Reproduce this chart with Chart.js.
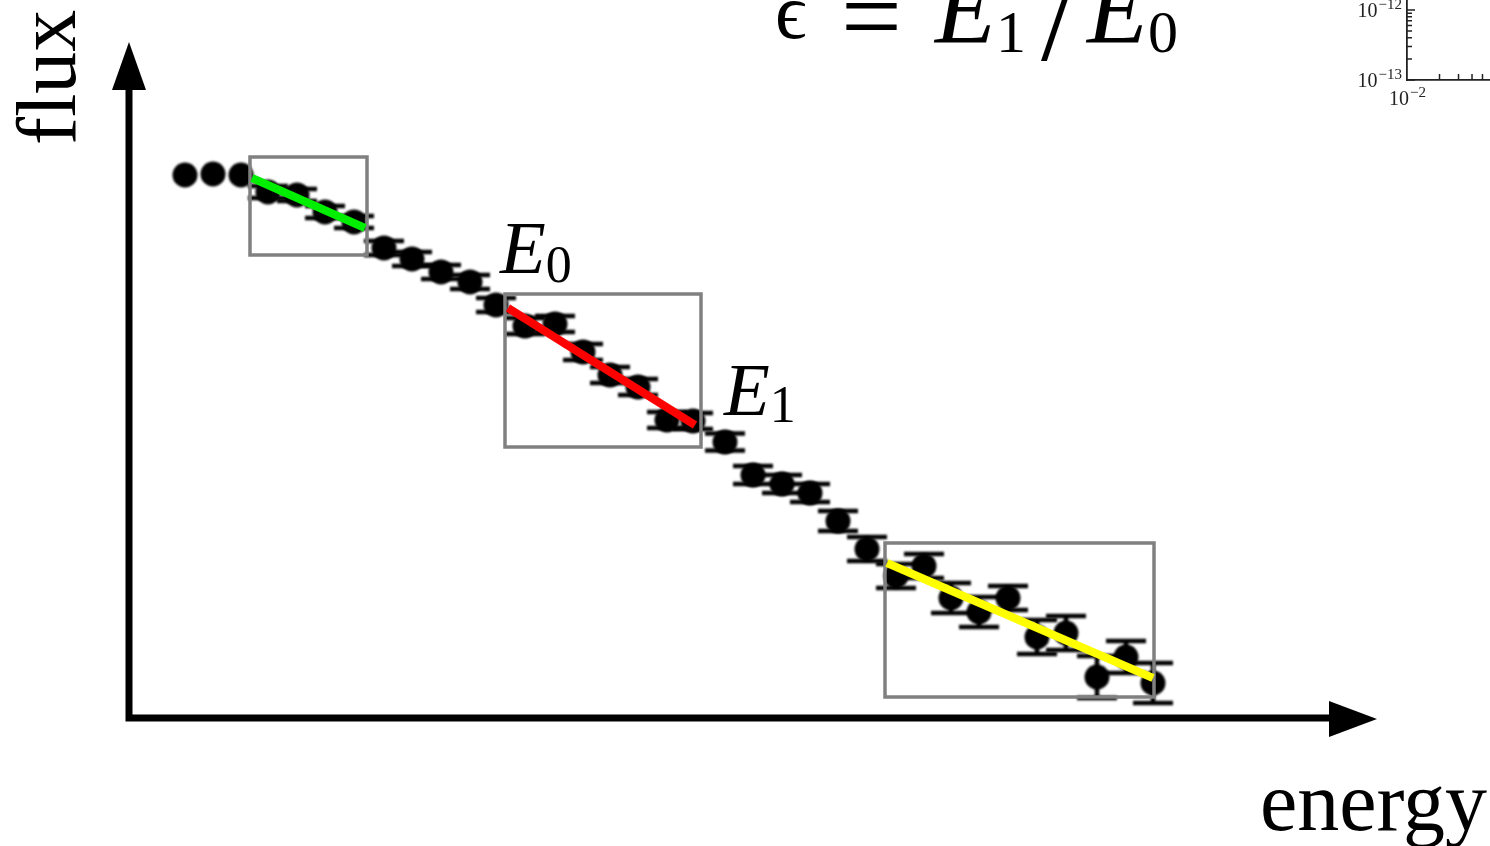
<!DOCTYPE html>
<html>
<head>
<meta charset="utf-8">
<title>flux vs energy</title>
<script src="https://cdn.jsdelivr.net/npm/chart.js@4.4.1/dist/chart.umd.min.js"></script>
<style>
  html, body { margin: 0; padding: 0; background: #fff; overflow: hidden; }
  #wrap { position: relative; width: 1490px; height: 846px; }
  #spectrum { position: absolute; left: 0; top: 0; }
  #inset { position: absolute; left: 1330px; top: 0; }
</style>
</head>
<body>
<div id="wrap">
  <canvas id="spectrum" width="1490" height="846"></canvas>
  <canvas id="inset" width="160" height="110"></canvas>
</div>
<script>
// Spectrum points (arbitrary units, the two axes cross at 0,0)
const energy = [5.6, 8.4, 11.2, 13.9, 16.8, 19.6, 22.5, 25.5, 28.3, 31.2, 34.1, 36.7,
    39.6, 42.6, 45.4, 48.1, 50.9, 53.8, 56.4, 59.6, 62.4, 65.3, 68.1, 70.9, 73.8,
    76.7, 79.5, 82.2, 85.0, 87.9, 90.8, 93.7, 96.8, 99.7, 102.4];
const flux = [54.3, 54.4, 54.3, 52.6, 52.3, 50.6, 49.6, 47.0, 45.9, 44.6, 43.6, 41.3,
    39.2, 39.4, 36.6, 34.3, 33.1, 29.8, 29.7, 27.6, 24.3, 23.4, 22.5, 19.7, 16.9,
    14.2, 15.2, 12.0, 10.6, 12.0, 8.1, 8.5, 4.1, 6.1, 3.5];
const fluxErr = [0, 0, 0, 0.6, 0.6, 0.6, 0.6, 0.7, 0.7, 0.7, 0.7, 0.7,
    0.8, 0.8, 0.8, 0.8, 0.8, 0.8, 0.8, 0.85, 0.9, 0.9, 0.9, 1.0, 1.2,
    1.2, 1.2, 1.5, 1.5, 1.2, 1.7, 1.7, 2.1, 1.6, 2.0];

// Straight-line fits over three energy windows
const fitLowE = [12.3, 23.6];
const fitLowF = [54.0, 49.0];
const fitMidE = [37.9, 56.6];
const fitMidF = [41.0, 29.3];
const fitHighE = [75.8, 102.4];
const fitHighF = [15.5, 4.0];

// Fit windows as [eMin, eMax, fMin, fMax]
const windowLow = [12.1, 23.8, 46.3, 56.1];
const windowMid = [37.6, 57.2, 27.1, 42.4];
const windowHigh = [75.6, 102.5, 2.1, 17.5];

// Small log-log panel in the corner
const insetYMajor = [1e-13, 1e-12];
const insetYMinor = [2e-13, 3e-13, 4e-13, 5e-13, 6e-13, 7e-13, 8e-13, 9e-13];
const insetXMajor = [1e-2];
const insetXMinor = [2e-2, 3e-2, 4e-2, 5e-2];

const SERIF = '"Liberation Serif", "DejaVu Serif", serif';
const POINTS = 0;

function toXY(xs, ys) {
    return xs.map((x, i) => ({ x: x, y: ys[i] }));
}

function drawErrorBars(chart) {
    const ctx = chart.ctx;
    const xs = chart.scales.x, ys = chart.scales.y;
    ctx.strokeStyle = '#000';
    ctx.lineWidth = 4.5;
    energy.forEach((e, i) => {
        if (!fluxErr[i]) return;
        const px = xs.getPixelForValue(e);
        const top = ys.getPixelForValue(flux[i] + fluxErr[i]);
        const bot = ys.getPixelForValue(flux[i] - fluxErr[i]);
        ctx.beginPath();
        ctx.moveTo(px, top); ctx.lineTo(px, bot);
        ctx.moveTo(px - 20, top); ctx.lineTo(px + 20, top);
        ctx.moveTo(px - 20, bot); ctx.lineTo(px + 20, bot);
        ctx.stroke();
    });
}

function drawWindows(chart) {
    const ctx = chart.ctx;
    const xs = chart.scales.x, ys = chart.scales.y;
    ctx.save();
    ctx.strokeStyle = '#808080';
    ctx.lineWidth = 3.5;
    [windowLow, windowMid, windowHigh].forEach(w => {
        const l = xs.getPixelForValue(w[0]), r = xs.getPixelForValue(w[1]);
        const b = ys.getPixelForValue(w[2]), t = ys.getPixelForValue(w[3]);
        ctx.strokeRect(l, t, r - l, b - t);
    });
    ctx.restore();
}

function drawAxes(chart) {
    const ctx = chart.ctx;
    const xs = chart.scales.x, ys = chart.scales.y;
    const ox = xs.getPixelForValue(0), oy = ys.getPixelForValue(0);
    const yTip = ys.getPixelForValue(67.6);
    const xTip = xs.getPixelForValue(124.8);
    const head = 48, half = 17;
    ctx.save();
    ctx.strokeStyle = '#000';
    ctx.fillStyle = '#000';
    ctx.lineWidth = 7;
    ctx.beginPath();
    ctx.moveTo(ox, yTip + head - 2);
    ctx.lineTo(ox, oy);
    ctx.lineTo(xTip - head + 2, oy);
    ctx.stroke();
    // arrow heads
    ctx.beginPath();
    ctx.moveTo(ox, yTip);
    ctx.lineTo(ox - half, yTip + head);
    ctx.lineTo(ox + half, yTip + head);
    ctx.closePath();
    ctx.fill();
    ctx.beginPath();
    ctx.moveTo(xTip, oy + 1);
    ctx.lineTo(xTip - head, oy + 1 - half - 1);
    ctx.lineTo(xTip - head, oy + 1 + half + 1);
    ctx.closePath();
    ctx.fill();
    ctx.restore();
}

function drawSubscripted(ctx, x, y, main, sub, size, subSize, drop) {
    ctx.font = 'italic ' + size + 'px ' + SERIF;
    ctx.fillText(main, x, y);
    const w = ctx.measureText(main).width;
    ctx.font = subSize + 'px ' + SERIF;
    ctx.fillText(sub, x + w, y + drop);
}

function drawLabels(chart) {
    const ctx = chart.ctx;
    const xs = chart.scales.x, ys = chart.scales.y;
    const at = (e, f) => [xs.getPixelForValue(e), ys.getPixelForValue(f)];
    ctx.save();
    ctx.fillStyle = '#000';
    ctx.textBaseline = 'alphabetic';

    let [x, y] = at(113.1, -11.2);
    ctx.font = '84px ' + SERIF;
    ctx.fillText('energy', x, y);

    [x, y] = at(37.1, 44.5);
    drawSubscripted(ctx, x, y, 'E', '0', 75, 52, 9);
    [x, y] = at(59.5, 30.3);
    drawSubscripted(ctx, x, y, 'E', '1', 75, 52, 7);

    // ratio written across the top edge
    [x, y] = at(64.6, 67.6);
    ctx.font = '78px ' + SERIF;
    ctx.fillText('\u03F5', x, y - 4);
    ctx.font = '108px ' + SERIF;
    ctx.fillText('=', x + 66, y + 10);
    drawSubscripted(ctx, x + 160, y, 'E', '1', 100, 60, 10);
    ctx.font = '120px ' + SERIF;
    ctx.fillText('/', x + 266, y + 18);
    drawSubscripted(ctx, x + 312, y, 'E', '0', 100, 60, 10);

    [x, y] = at(-5.4, 57.3);
    ctx.translate(x, y);
    ctx.rotate(-Math.PI / 2);
    ctx.font = '84px ' + SERIF;
    ctx.fillText('flux', 0, 0);
    ctx.restore();
}

const sketchPlugin = {
    id: 'sketch',
    beforeDatasetDraw(chart, args) {
        if (args.index !== POINTS) return;
        chart.ctx.save();
        chart.ctx.filter = 'blur(0.8px)';
        drawErrorBars(chart);
    },
    afterDatasetDraw(chart, args) {
        if (args.index !== POINTS) return;
        chart.ctx.restore();
        drawWindows(chart);
    },
    afterDatasetsDraw(chart) {
        drawAxes(chart);
        drawLabels(chart);
    }
};

function fitLine(xs, ys, color) {
    return {
        data: toXY(xs, ys),
        showLine: true,
        borderColor: color,
        borderWidth: 8,
        pointRadius: 0,
        order: 1
    };
}

new Chart(document.getElementById('spectrum'), {
    type: 'scatter',
    data: {
        datasets: [
            {
                label: 'flux',
                data: toXY(energy, flux),
                backgroundColor: '#000',
                borderColor: '#000',
                pointRadius: 12.5,
                pointBorderWidth: 0,
                order: 2
            },
            fitLine(fitLowE, fitLowF, '#00ee00'),
            fitLine(fitMidE, fitMidF, '#ff0000'),
            fitLine(fitHighE, fitHighF, '#ffff00')
        ]
    },
    options: {
        responsive: false,
        animation: false,
        devicePixelRatio: 1,
        layout: { padding: 0, autoPadding: false },
        scales: {
            x: { type: 'linear', display: false, min: -12.9, max: 136.1 },
            y: { type: 'linear', display: false, min: -12.8, max: 71.8 }
        },
        plugins: {
            legend: { display: false },
            tooltip: { enabled: false }
        }
    },
    plugins: [sketchPlugin]
});

// corner panel: log ticks point inward, labels written as powers of ten
function drawPower(ctx, exp, x, y, align) {
    const base = '10', sup = '\u2212' + Math.abs(exp);
    ctx.font = '20px ' + SERIF;
    const w1 = ctx.measureText(base).width;
    ctx.font = '15px ' + SERIF;
    const w2 = ctx.measureText(sup).width;
    let x0 = x;
    if (align === 'right') x0 = x - w1 - w2;
    if (align === 'center') x0 = x - (w1 + w2) / 2;
    ctx.font = '20px ' + SERIF;
    ctx.fillText(base, x0, y);
    ctx.font = '15px ' + SERIF;
    ctx.fillText(sup, x0 + w1 + 1, y - 8);
}

const insetPlugin = {
    id: 'insetTicks',
    afterDraw(chart) {
        const ctx = chart.ctx;
        const xs = chart.scales.x, ys = chart.scales.y;
        const area = chart.chartArea;
        ctx.save();
        ctx.strokeStyle = '#222';
        ctx.fillStyle = '#222';
        ctx.lineWidth = 1.5;
        ctx.beginPath();
        insetYMinor.forEach(v => {
            const p = ys.getPixelForValue(v);
            ctx.moveTo(area.left, p); ctx.lineTo(area.left + 5, p);
        });
        insetYMajor.forEach(v => {
            const p = ys.getPixelForValue(v);
            ctx.moveTo(area.left, p); ctx.lineTo(area.left + 8, p);
        });
        insetXMinor.forEach(v => {
            const p = xs.getPixelForValue(v);
            ctx.moveTo(p, area.bottom); ctx.lineTo(p, area.bottom - 6);
        });
        ctx.stroke();
        insetYMajor.forEach(v => {
            drawPower(ctx, Math.round(Math.log10(v)), area.left - 6, ys.getPixelForValue(v) + 7, 'right');
        });
        insetXMajor.forEach(v => {
            drawPower(ctx, Math.round(Math.log10(v)), xs.getPixelForValue(v), area.bottom + 25, 'center');
        });
        ctx.restore();
    }
};

new Chart(document.getElementById('inset'), {
    type: 'scatter',
    data: { datasets: [{ data: [] }] },
    options: {
        responsive: false,
        animation: false,
        devicePixelRatio: 1,
        layout: { padding: 0, autoPadding: false },
        scales: {
            x: {
                type: 'logarithmic', min: 0.01, max: 0.0587,
                grid: { display: false },
                border: { display: true, color: '#222', width: 1.8 },
                ticks: { display: false },
                afterFit: s => { s.height = 30; }
            },
            y: {
                type: 'logarithmic', min: 1e-13, max: 1.389e-12,
                grid: { display: false },
                border: { display: true, color: '#222', width: 1.8 },
                ticks: { display: false },
                afterFit: s => { s.width = 77; }
            }
        },
        plugins: {
            legend: { display: false },
            tooltip: { enabled: false }
        }
    },
    plugins: [insetPlugin]
});
</script>
</body>
</html>
